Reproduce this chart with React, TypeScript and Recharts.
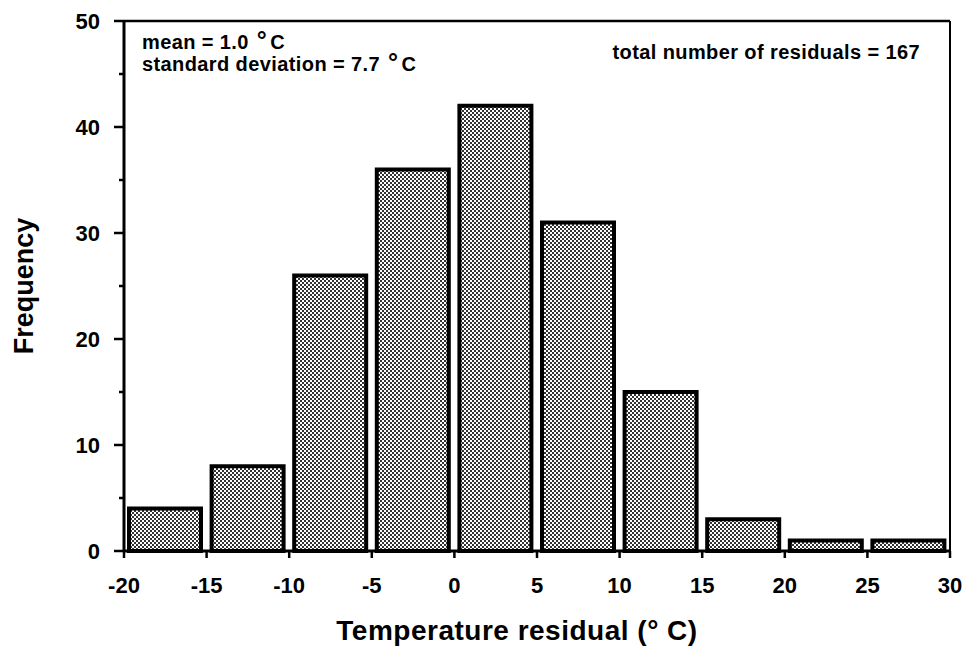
import { BarChart, Bar, XAxis, YAxis, ReferenceLine, Label } from 'recharts'

// histogram bins (lower edge, °C) and counts
const binStarts = [-20, -15, -10, -5, 0, 5, 10, 15, 20, 25]
const frequencies = [4, 8, 26, 36, 42, 31, 15, 3, 1, 1]
const xTicks = [-20, -15, -10, -5, 0, 5, 10, 15, 20, 25, 30]
const yTicks = [0, 5, 10, 15, 20, 25, 30, 35, 40, 45, 50]

const meanText = ['mean = 1.0 ', '°', 'C']
const sdText = ['standard deviation = 7.7 ', '°', 'C']
const totalText = 'total number of residuals = 167'

const FONT = '"Liberation Sans", Arial, Helvetica, sans-serif'
const Y_TICK_SIZE = 10
const Y_TICK_MARGIN = 14

const chartData = binStarts.map((start, i) => ({
  center: start + 2.5,
  count: frequencies[i],
}))

function YTick(props: any) {
  const { x, y, payload } = props
  const major = payload.value % 10 === 0
  const axisX = x + Y_TICK_SIZE + Y_TICK_MARGIN
  return (
    <g>
      <line x1={axisX - (major ? 10 : 5)} x2={axisX} y1={y} y2={y} stroke="#000" strokeWidth={2.5} />
      {major && (
        <text x={x} y={y} dy="0.36em" textAnchor="end" fontFamily={FONT} fontWeight="bold" fontSize={22} fill="#000">
          {payload.value}
        </text>
      )}
    </g>
  )
}

function Notes(props: any) {
  const { x, y, width } = props.viewBox
  const style = { fontFamily: FONT, fontWeight: 'bold' as const, fontSize: 20, letterSpacing: 0.4, fill: '#000' }
  const withDegree = (parts: string[]) => (
    <>
      {parts[0]}
      <tspan fontSize={25} dx={2}>{parts[1]}</tspan>
      <tspan dx={3}>{parts[2]}</tspan>
    </>
  )
  return (
    <g>
      <text x={x + 18} y={y + 28} {...style}>{withDegree(meanText)}</text>
      <text x={x + 18} y={y + 50} {...style}>{withDegree(sdText)}</text>
      <text x={x + width - 30} y={y + 38} textAnchor="end" {...style}>{totalText}</text>
    </g>
  )
}

function XTitle(props: any) {
  const { x, y, width } = props.viewBox
  return (
    <text x={x + width / 2 - 20} y={y + 89} textAnchor="middle" fontFamily={FONT} fontWeight="bold" fontSize={28} letterSpacing={0.5} fill="#000">
      Temperature residual (° C)
    </text>
  )
}

function YTitle(props: any) {
  const { y, height } = props.viewBox
  const cx = 33
  const cy = y + height / 2
  return (
    <text x={cx} y={cy} transform={`rotate(-90, ${cx}, ${cy})`} textAnchor="middle" fontFamily={FONT} fontWeight="bold" fontSize={27} fill="#000">
      Frequency
    </text>
  )
}

export default function App() {
  return (
    <div style={{ position: 'absolute', left: 0, top: 0, width: 969, height: 661, background: '#fff' }}>
      <BarChart width={969} height={661} data={chartData} margin={{ top: 21, right: 19, bottom: 0, left: 0 }}>
        <defs>
          <pattern id="dither" width={4} height={4} patternUnits="userSpaceOnUse">
            <rect width={4} height={4} fill="#fff" />
            <rect x={0} y={0} width={2} height={2} fill="#333" />
            <rect x={2} y={2} width={2} height={2} fill="#333" />
          </pattern>
        </defs>
        <XAxis
          dataKey="center"
          type="number"
          domain={[-20, 30]}
          ticks={xTicks}
          interval={0}
          height={110}
          tickSize={7}
          tickMargin={19}
          axisLine={{ stroke: '#000', strokeWidth: 3 }}
          tickLine={{ stroke: '#000', strokeWidth: 2.5 }}
          tick={{ fill: '#000', fontFamily: FONT, fontWeight: 'bold', fontSize: 22 }}
        >
          <Label content={<XTitle />} />
        </XAxis>
        <YAxis
          type="number"
          domain={[0, 50]}
          ticks={yTicks}
          interval={0}
          width={124}
          tickSize={Y_TICK_SIZE}
          tickMargin={Y_TICK_MARGIN}
          tickLine={false}
          axisLine={{ stroke: '#000', strokeWidth: 3 }}
          tick={<YTick />}
        >
          <Label content={<YTitle />} />
        </YAxis>
        <ReferenceLine y={50} stroke="#000" strokeWidth={2.5}>
          <Label content={<Notes />} />
        </ReferenceLine>
        <ReferenceLine x={30} stroke="#000" strokeWidth={2} />
        <Bar dataKey="count" fill="url(#dither)" stroke="#000" strokeWidth={4} barSize={72} isAnimationActive={false} />
      </BarChart>
    </div>
  )
}
